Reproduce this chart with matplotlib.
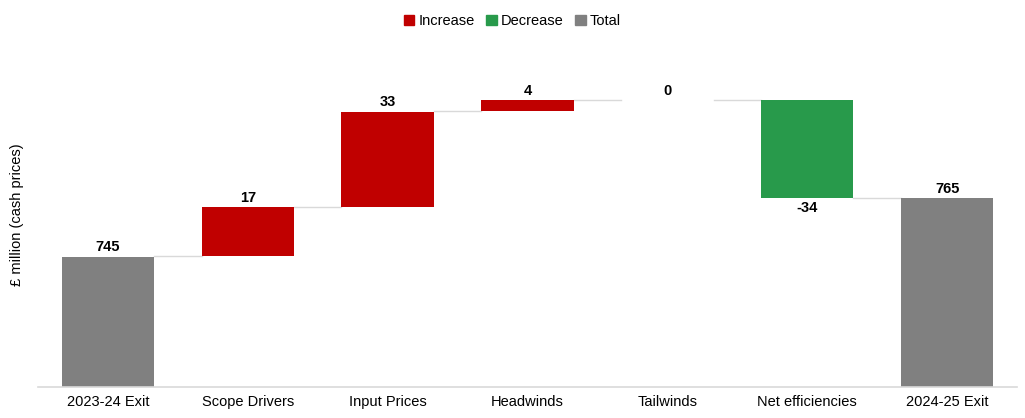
import matplotlib
matplotlib.use("Agg")
from matplotlib import pyplot as plt
from matplotlib.patches import Patch

plt.rcParams['font.family'] = ['Liberation Sans', 'DejaVu Sans']

# data
categories = ["2023-24 Exit", "Scope Drivers", "Input Prices", "Headwinds",
              "Tailwinds", "Net efficiencies", "2024-25 Exit"]
changes = [745, 17, 33, 4, 0, -34, 765]
kinds = ["total", "change", "change", "change", "change", "change", "total"]

red = "#C00000"
green = "#289A4B"
grey = "#808080"
line_c = "#D9D9D9"

fig = plt.figure(figsize=(10.25, 4.18), dpi=100)
ax = fig.add_axes([38 / 1025, 1 - 387 / 418, 979 / 1025, 342 / 418])
ymin = 700
ax.set_xlim(-0.5, len(categories) - 0.5)
ax.set_ylim(ymin, ymin + 342 / 2.9)

w = 0.66
running = 0
levels = []
for i, (v, k) in enumerate(zip(changes, kinds)):
    if k == "total":
        bottom, height, col = ymin, v - ymin, grey
        running = v
        top_level = v
        ax.text(i, v + 0.8, f"{v}", ha="center", va="bottom",
                fontsize=10.5, fontweight="bold")
    else:
        start = running
        running = running + v
        bottom = min(start, running)
        height = abs(v)
        col = red if v >= 0 else green
        if v >= 0:
            ax.text(i, running + 0.8, f"{v}", ha="center", va="bottom",
                    fontsize=10.5, fontweight="bold")
        else:
            ax.text(i, running - 0.8, f"{v}", ha="center", va="top",
                    fontsize=10.5, fontweight="bold")
    if height > 0:
        ax.bar(i, height, bottom=bottom, width=w, color=col, zorder=2)
    levels.append(running)

# connector lines
for i in range(len(categories) - 1):
    ax.plot([i + w / 2, i + 1 - w / 2], [levels[i], levels[i]],
            color=line_c, lw=1, zorder=1)

ax.set_xticks(range(len(categories)))
ax.set_xticklabels(categories, fontsize=10.5)
ax.tick_params(axis="x", length=0, pad=6)
ax.set_yticks([])
for s in ["top", "right", "left"]:
    ax.spines[s].set_visible(False)
ax.spines["bottom"].set_color(line_c)
ax.spines["bottom"].set_linewidth(1.2)

fig.text(17 / 1025, 1 - 215 / 418, "£ million (cash prices)", rotation=90,
         ha="center", va="center", fontsize=10.5)

handles = [Patch(color=red, label="Increase"),
           Patch(color=green, label="Decrease"),
           Patch(color=grey, label="Total")]
fig.legend(handles=handles, loc="center", bbox_to_anchor=(0.5, 1 - 21 / 418),
           ncol=3, frameon=False, fontsize=10.5, handlelength=0.7,
           handleheight=0.7, handletextpad=0.3, columnspacing=0.8)

fig.savefig("out.png", dpi=100)
